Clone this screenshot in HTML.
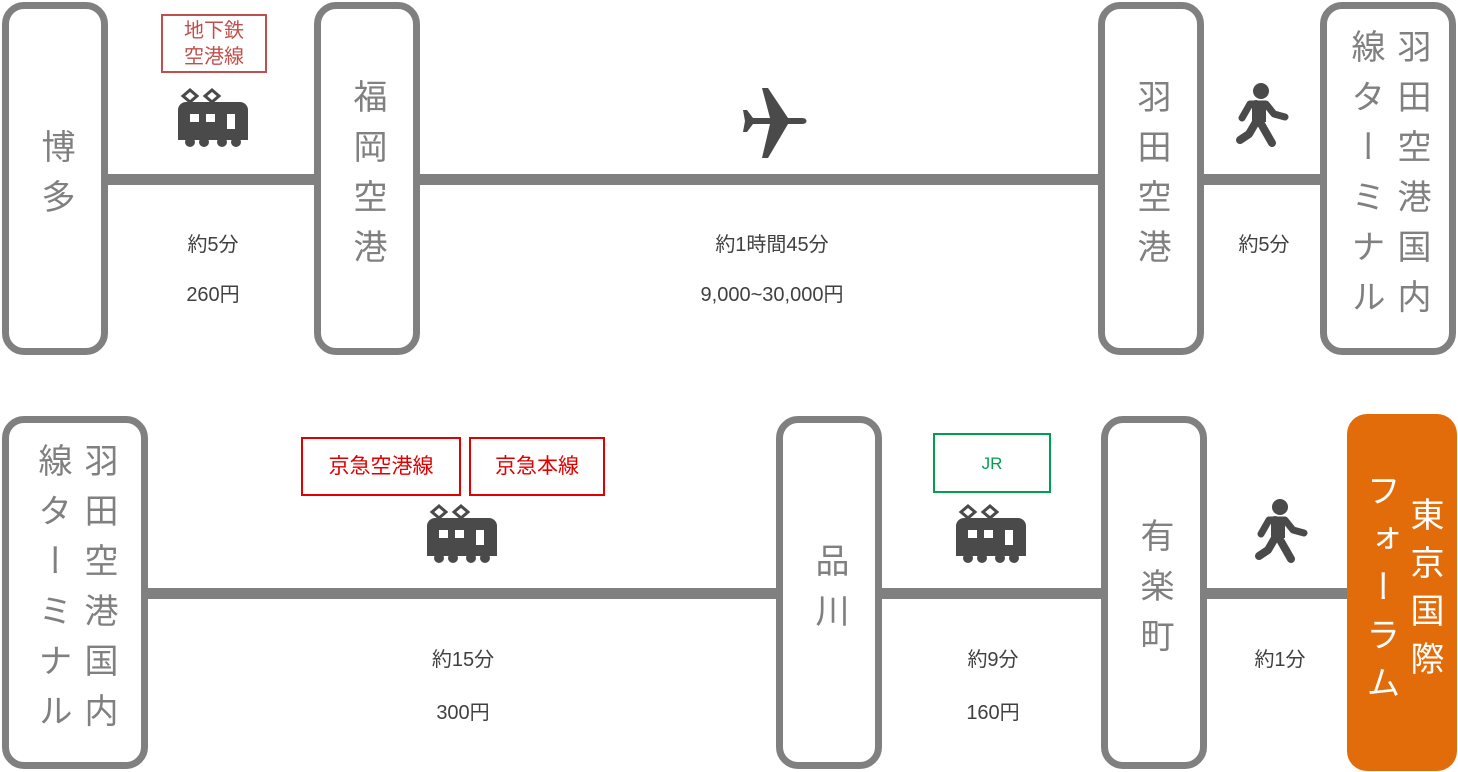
<!DOCTYPE html>
<html><head><meta charset="utf-8"><style>
body{margin:0;width:1458px;height:772px;background:#fff;position:relative;overflow:hidden;font-family:"Liberation Sans","Noto Sans CJK JP",sans-serif}
.b{position:absolute;box-sizing:border-box;border:7px solid #808080;border-radius:22px;background:#fff;display:flex;align-items:center;justify-content:center}
.v{writing-mode:vertical-rl;font-size:34px;color:#808080;line-height:46px;letter-spacing:16px;text-align:center}
.ln{position:absolute;background:#808080;height:11px}
.t{position:absolute;font-size:20px;color:#404040;transform:translateX(-50%);white-space:nowrap;line-height:20px}
.lb{position:absolute;box-sizing:border-box;border:2px solid;display:flex;align-items:center;justify-content:center;font-size:21px;text-align:center;line-height:27px}
svg{position:absolute}
</style></head><body>
<div class="ln" style="left:100px;top:174px;width:1250px"></div>
<div class="ln" style="left:140px;top:588px;width:1220px"></div>

<div class="b" style="left:2px;top:2px;width:106px;height:353px"><div class="v">博多</div></div>
<div class="b" style="left:314px;top:2px;width:106px;height:353px"><div class="v">福岡空港</div></div>
<div class="b" style="left:1098px;top:2px;width:106px;height:353px"><div class="v">羽田空港</div></div>
<div class="b" style="left:1320px;top:2px;width:136px;height:353px"><div class="v">羽田空港国内<br>線ターミナル</div></div>

<div class="b" style="left:2px;top:416px;width:146px;height:353px"><div class="v">羽田空港国内<br>線ターミナル</div></div>
<div class="b" style="left:776px;top:416px;width:106px;height:353px"><div class="v">品川</div></div>
<div class="b" style="left:1101px;top:416px;width:106px;height:353px"><div class="v">有楽町</div></div>
<div class="b" style="left:1347px;top:414px;width:110px;height:357px;background:#e36c0a;border:none;border-radius:20px"><div class="v" style="color:#fff;line-height:44px;letter-spacing:14px">東京国際<br>フォーラム</div></div>

<div class="lb" style="left:161px;top:14px;width:106px;height:59px;border-color:#c0504d;color:#c0504d;font-size:20px;line-height:26px">地下鉄<br>空港線</div>
<div class="lb" style="left:301px;top:437px;width:160px;height:59px;border-color:#e00000;color:#e00000">京急空港線</div>
<div class="lb" style="left:469px;top:437px;width:136px;height:59px;border-color:#e00000;color:#e00000">京急本線</div>
<div class="lb" style="left:933px;top:433px;width:118px;height:60px;border-color:#00a050;color:#00a050;font-size:17px">JR</div>

<div class="t" style="left:213px;top:235px">約5分</div>
<div class="t" style="left:213px;top:285px">260円</div>
<div class="t" style="left:772px;top:235px">約1時間45分</div>
<div class="t" style="left:772px;top:285px">9,000~30,000円</div>
<div class="t" style="left:1264px;top:235px">約5分</div>
<div class="t" style="left:463px;top:650px">約15分</div>
<div class="t" style="left:463px;top:703px">300円</div>
<div class="t" style="left:993px;top:650px">約9分</div>
<div class="t" style="left:993px;top:703px">160円</div>
<div class="t" style="left:1280px;top:650px">約1分</div>

<svg width="0" height="0"><defs>
<g id="tr" fill="#4a4a4a"><path d="M12 2l7 6-7 6-7-6z M34 2l7 6-7 6-7-6z" fill="none" stroke="#4a4a4a" stroke-width="3"/>
<path d="M8 14h54a8 8 0 0 1 8 8v30h-70v-30a8 8 0 0 1 8-8z"/>
<circle cx="12" cy="54" r="5"/><circle cx="26" cy="54" r="5"/><circle cx="44" cy="54" r="5"/><circle cx="58" cy="54" r="5"/>
<rect x="12" y="26" width="9" height="8" fill="#fff"/><rect x="28" y="26" width="9" height="8" fill="#fff"/><rect x="49" y="26" width="8" height="15" fill="#fff"/></g>
<g id="wk"><circle cx="27" cy="9" r="8" fill="#4a4a4a"/>
<path d="M8 36l8-14h16l8 10 11 3" fill="none" stroke="#4a4a4a" stroke-width="7" stroke-linecap="round" stroke-linejoin="round"/>
<path d="M22 22v18l-7 12-9 6 M26 40l12 21" fill="none" stroke="#4a4a4a" stroke-width="8" stroke-linecap="round" stroke-linejoin="round"/>
<path d="M18 22h14v18h-12z" fill="#4a4a4a"/></g>
</defs></svg>
<svg style="left:178px;top:88px" width="72" height="62"><use href="#tr"/></svg>
<svg style="left:427px;top:504px" width="72" height="62"><use href="#tr"/></svg>
<svg style="left:956px;top:504px" width="72" height="62"><use href="#tr"/></svg>
<svg style="left:1234px;top:82px" width="58" height="72"><use href="#wk"/></svg>
<svg style="left:1253px;top:498px" width="58" height="72"><use href="#wk"/></svg>
<svg style="left:737px;top:86px" width="72" height="74" viewBox="0 0 72 74"><path fill="#4a4a4a" d="M25 2h6l20 30h14c6 0 6 6 0 6h-14l-20 34h-6l8-34h-17l-6 8h-4l2-11-2-11h4l6 8h17z"/></svg>
</body></html>
